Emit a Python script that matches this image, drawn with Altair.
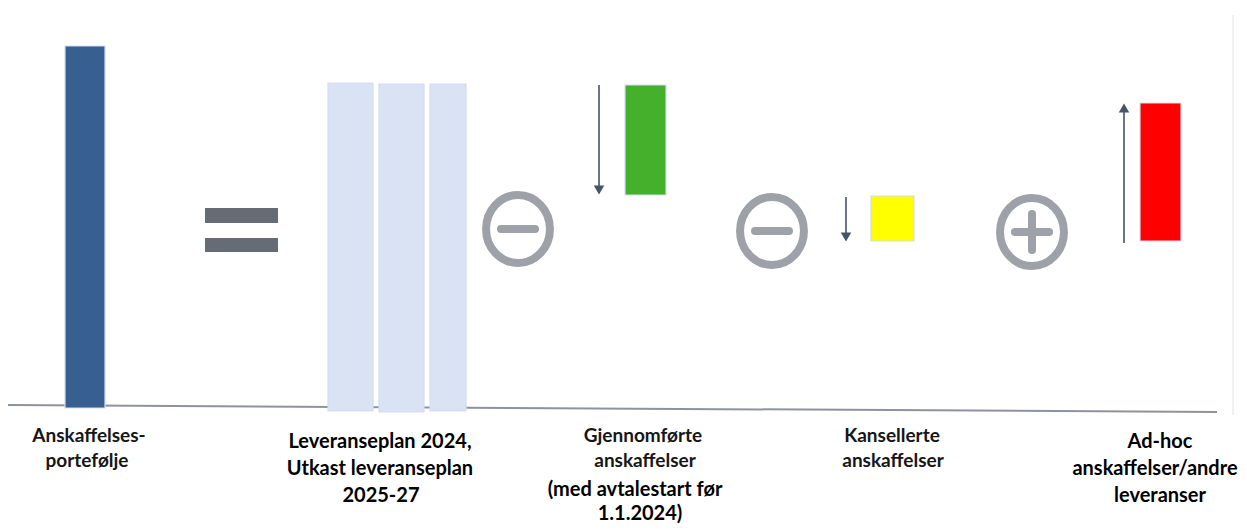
import altair as alt
import pandas as pd

# ---- data -------------------------------------------------------------
# Columns: top and bottom level of each column (units above the base line)
kategorier = ["Anskaffelsesportefølje", "Leveranseplan 2024", "Utkast 2025",
              "Utkast 2026-27", "Gjennomførte anskaffelser",
              "Kansellerte anskaffelser", "Ad-hoc anskaffelser/andre leveranser"]
verdi_topp = [362, 325, 324, 324, 323, 212, 305]
verdi_bunn = [0, -3, -4, -3, 213, 167, 167]
farger = ["#375f8f", "#dae3f4", "#dae3f4", "#dae3f4", "#44b02c", "#ffff00", "#ff0000"]

# Arrows showing the change of each step (from level -> to level)
pil_fra = [323, 211, 165]
pil_til = [213, 166, 305]

# Operators between the columns
operatorer = ["minus", "minus", "pluss"]

# Labels under the columns (one row per text line)
etikett_a = ["Anskaffelses-", "portefølje", "Gjennomførte", "anskaffelser",
             "Kansellerte", "anskaffelser"]
etikett_b = ["Leveranseplan 2024,", "Utkast leveranseplan", "2025-27",
             "(med avtalestart før", "1.1.2024)", "Ad-hoc",
             "anskaffelser/andre", "leveranser"]

# ---- layout (horizontal slots, label line levels) ----------------------
kol_start = [65, 328, 379, 430, 625, 871, 1140]
kol_slutt = [105, 373, 424, 466, 666, 914, 1181]
pil_x = [599, 846, 1124]
op_x = [518, 772, 1032]
op_y = [179, 177, 176]
lik_x = [205, 278]
lik_topp = [200, 170]
lik_bunn = [185, 156]
etikett_a_x = [89, 87, 643, 645, 892, 893]
etikett_a_y = [-34, -59, -34, -59, -34, -59]
etikett_b_x = [380, 380, 381, 635, 640, 1160, 1155, 1160]
etikett_b_y = [-40, -67, -94, -88, -112, -40, -67, -94]

X = alt.X("x:Q", scale=alt.Scale(domain=[8, 1239], nice=False, zero=False), axis=None)
Y = alt.Y("y:Q", scale=alt.Scale(domain=[-116, 400], nice=False, zero=False), axis=None)

# base line
linje_df = pd.DataFrame({"x": [8], "x2": [1217], "y": [3], "y2": [-4]})
linje = alt.Chart(linje_df).mark_rule(color="#8d939c", strokeWidth=2).encode(
    x=X, x2="x2:Q", y=Y, y2="y2:Q")

kant_df = pd.DataFrame({"x": [1233], "y": [393], "y2": [-7]})
kant = alt.Chart(kant_df).mark_rule(color="#e3e3e3", strokeWidth=1).encode(
    x=X, y=Y, y2="y2:Q")

# columns
kol_df = pd.DataFrame({"kategori": kategorier, "x": kol_start, "x2": kol_slutt,
                       "y": verdi_topp, "y2": verdi_bunn})
kolonner = alt.Chart(kol_df).mark_rect(stroke="#d3ddf0", strokeWidth=1.2).encode(
    x=X, x2="x2:Q", y=Y, y2="y2:Q",
    color=alt.Color("kategori:N", scale=alt.Scale(domain=kategorier, range=farger), legend=None))

# equals sign
lik_df = pd.DataFrame({"x": [lik_x[0]] * 2, "x2": [lik_x[1]] * 2, "y": lik_topp, "y2": lik_bunn})
lik = alt.Chart(lik_df).mark_rect(color="#656c76").encode(x=X, x2="x2:Q", y=Y, y2="y2:Q")

# arrows
rows_skaft, rows_hode = [], []
for xx, f, t in zip(pil_x, pil_fra, pil_til):
    ned = t < f
    hode = t + 5 if ned else t - 5
    rows_skaft.append({"x": xx, "y": f, "y2": hode})
    rows_hode.append({"x": xx, "y": hode, "form": "triangle-down" if ned else "triangle-up"})
skaft = alt.Chart(pd.DataFrame(rows_skaft)).mark_rule(color="#44546a", strokeWidth=1.6).encode(
    x=X, y=Y, y2="y2:Q")
hode = alt.Chart(pd.DataFrame(rows_hode)).mark_point(
    filled=True, color="#44546a", size=110, opacity=1).encode(
    x=X, y=Y, shape=alt.Shape("form:N", scale=alt.Scale(domain=["triangle-down", "triangle-up"],
                                                        range=["triangle-down", "triangle-up"]), legend=None))

# operator circles
op_df = pd.DataFrame({"op": operatorer, "x": op_x, "y": op_y})
ellipse = "M -0.94 0 A 0.94 1 0 1 1 0.94 0 A 0.94 1 0 1 1 -0.94 0 Z"
sirkler = alt.Chart(op_df).mark_point(shape=ellipse, filled=False, stroke="#9ea2a8",
                                      strokeWidth=8, size=4624, opacity=1).encode(x=X, y=Y)
vannrett = pd.DataFrame({"x": [v - 17 for v in op_x], "x2": [v + 17 for v in op_x], "y": op_y})
strek_h = alt.Chart(vannrett).mark_rule(color="#9ea2a8", strokeWidth=8, strokeCap="round").encode(
    x=X, x2="x2:Q", y=Y)
loddrett = pd.DataFrame([{"x": x, "y": y + 18, "y2": y - 18}
                         for o, x, y in zip(operatorer, op_x, op_y) if o == "pluss"])
strek_v = alt.Chart(loddrett).mark_rule(color="#9ea2a8", strokeWidth=8, strokeCap="round").encode(
    x=X, y=Y, y2="y2:Q")

# labels
ta = pd.DataFrame({"tekst": etikett_a, "x": etikett_a_x, "y": etikett_a_y})
tb = pd.DataFrame({"tekst": etikett_b, "x": etikett_b_x, "y": etikett_b_y})
tekst_a = alt.Chart(ta).mark_text(font="Lato", fontWeight="bold", fontSize=19, color="#161616",
                                  align="center", baseline="alphabetic").encode(x=X, y=Y, text="tekst:N")
tekst_b = alt.Chart(tb).mark_text(font="Lato", fontWeight="bold", fontSize=20, color="#000000",
                                  align="center", baseline="alphabetic").encode(x=X, y=Y, text="tekst:N")

chart = alt.layer(linje, kant, kolonner, lik, skaft, hode, sirkler, strek_h, strek_v,
                  tekst_a, tekst_b).properties(
    width=1231, height=516, padding=0, autosize="none", background="white"
).configure_view(strokeWidth=0)

chart.save("out.html", embed_options={"renderer": "svg", "actions": False})
